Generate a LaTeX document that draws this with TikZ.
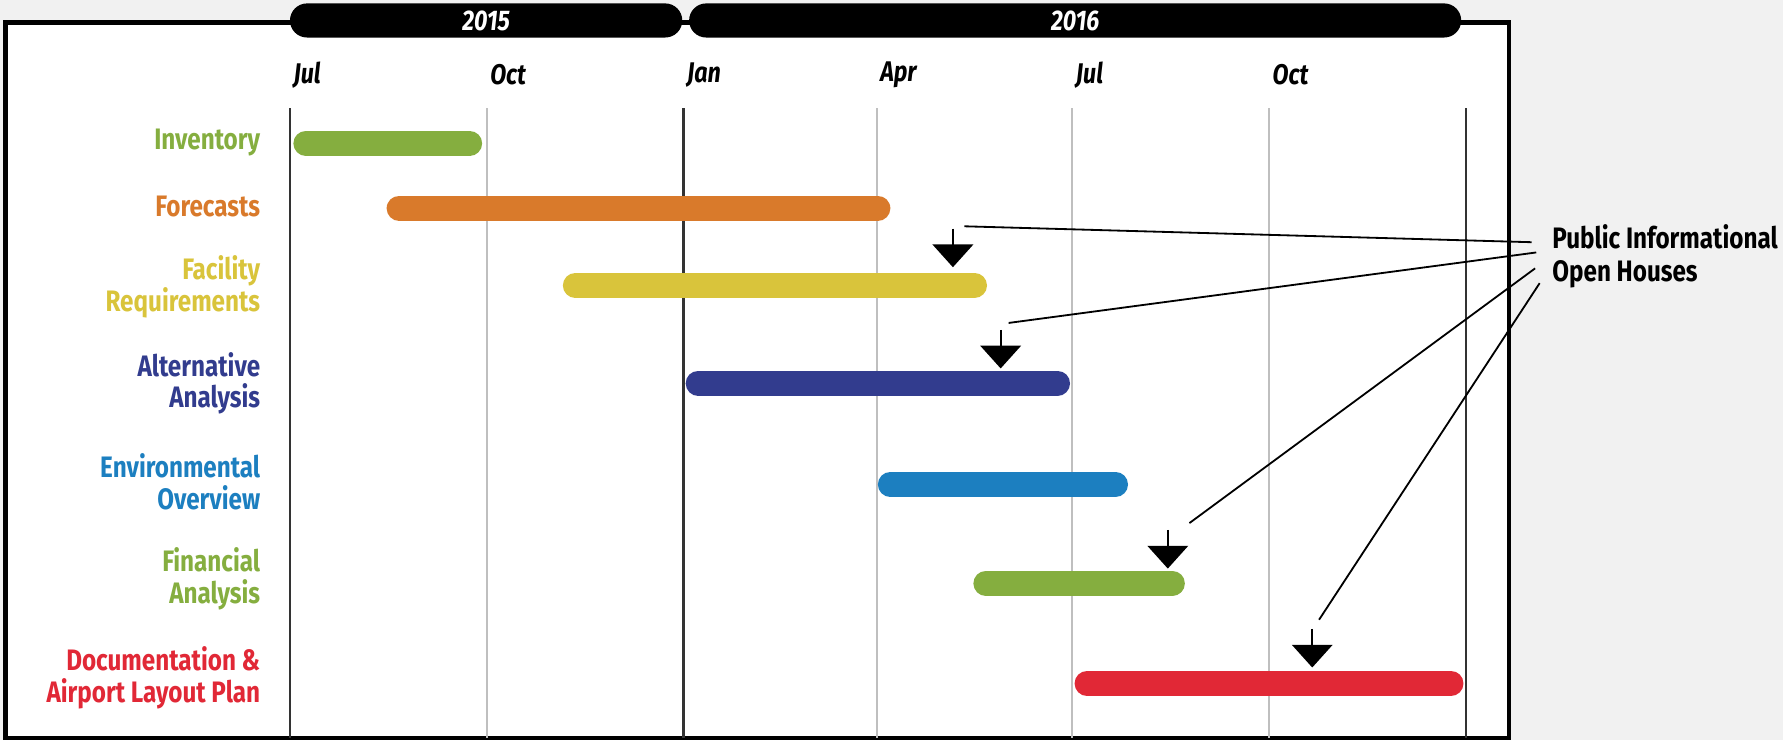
\documentclass[tikz,border=0pt]{standalone}
\usepackage{fontspec}
\setmainfont{Fira Sans}[FakeStretch=0.82]
\definecolor{invgreen}{HTML}{85AE3F}
\definecolor{fcorange}{HTML}{D97A2B}
\definecolor{facyellow}{HTML}{D9C43B}
\definecolor{altnavy}{HTML}{323C8E}
\definecolor{envblue}{HTML}{1C7FC0}
\definecolor{docred}{HTML}{E12836}
\definecolor{pagegray}{HTML}{F1F1F1}

\begin{document}
\begin{tikzpicture}[x=1pt, y=-1pt,
  tasklabel/.style={anchor=east, align=right, inner sep=0pt, font=\bfseries\fontsize{26}{28}\selectfont},
  taskbar/.style={line width=22pt, line cap=round},
  monthlabel/.style={anchor=west, inner sep=0pt, font=\bfseries\itshape\fontsize{25}{26}\selectfont},
  yearpill/.style={fill=black, rounded corners=15pt, minimum height=30pt, inner sep=0pt, text=white, font=\bfseries\itshape\fontsize{25}{26}\selectfont},
  gridline/.style={line width=2pt, draw=black!25},
  yearline/.style={line width=2pt, draw=black!80},
  leader/.style={line width=1.6pt},
  ]

\useasboundingbox[fill=pagegray] (0,0) rectangle (1568,651);
\draw[line width=4pt, fill=white] (5,20) rectangle (1327,649);

% years
\node[yearpill, minimum width=345pt] (y2015) at (427.5,18) {2015};
\node[yearpill, minimum width=679pt] (y2016) at (945.5,18) {2016};

% months
\foreach \mx/\mname in {255/Jul, 428/Oct, 601/Jan, 771/Apr, 943/Jul, 1116/Oct}
  \node[monthlabel] at (\mx+3,66) {\mname};

\foreach \gx in {428, 771, 943, 1116}
  \draw[gridline] (\gx,95) -- (\gx,649);
\foreach \gx in {255, 601, 1289}
  \draw[yearline] (\gx,95) -- (\gx,649);

% tasks
\node[tasklabel, text=invgreen] (inv) at (229,125) {Inventory};
\node[tasklabel, text=fcorange] (fc) at (229,182) {Forecasts};
\node[tasklabel, text=facyellow] (fac) at (229,252) {Facility\\Requirements};
\node[tasklabel, text=altnavy] (alt) at (229,337) {Alternative\\Analysis};
\node[tasklabel, text=envblue] (env) at (229,424) {Environmental\\Overview};
\node[tasklabel, text=invgreen] (fin) at (229,509) {Financial\\Analysis};
\node[tasklabel, text=docred] (doc) at (229,596) {Documentation \&\\Airport Layout Plan};

\draw[taskbar, invgreen] (269,126) -- (413,126);
\draw[taskbar, fcorange] (351,183) -- (772,183);
\draw[taskbar, facyellow] (506,251) -- (857,251);
\draw[taskbar, altnavy] (614,337) -- (930,337);
\draw[taskbar, envblue] (783,426) -- (981,426);
\draw[taskbar, invgreen] (867,513) -- (1031,513);
\draw[taskbar, docred] (956,601) -- (1276,601);

% open houses
\foreach \ax/\ay in {838/201, 880/290, 1027/466, 1154/553} {
  \draw[line width=2pt] (\ax,\ay) -- (\ax,\ay+16);
  \fill (\ax-18,\ay+14) -- (\ax+18,\ay+14) -- (\ax,\ay+34) -- cycle;
}

\node[anchor=west, align=left, inner sep=0pt, font=\bfseries\fontsize{26}{29}\selectfont] (pio) at (1365,225) {Public Informational\\Open Houses};

\coordinate (oh1) at (848,199);
\coordinate (oh2) at (887,284);
\coordinate (oh3) at (1046,460);
\coordinate (oh4) at (1160,545);

\draw[leader] ([shift={(-18,-12)}]pio.west) -- (oh1);
\draw[leader] ([shift={(-14,-3)}]pio.west) -- (oh2);
\draw[leader] ([shift={(-15,11)}]pio.west) -- (oh3);
\draw[leader] ([shift={(-11,24)}]pio.west) -- (oh4);

\end{tikzpicture}
\end{document}
